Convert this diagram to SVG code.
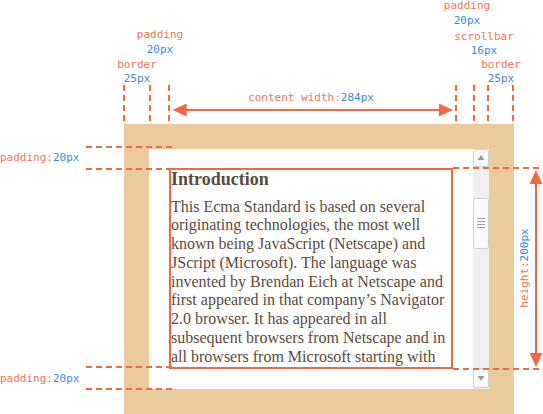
<svg xmlns="http://www.w3.org/2000/svg" width="543" height="414" viewBox="0 0 543 414">
<style>
.lbl{font-family:"DejaVu Sans Mono","Liberation Mono",monospace;font-size:11px}
.r{fill:#ee7556}
.b{fill:#3d89d0}
.dash{stroke:#ee6a45;stroke-width:2;stroke-dasharray:6 4;fill:none}
.arr{stroke:#ee6a45;stroke-width:2;fill:none}
.body{font-family:"Liberation Serif","Times New Roman",serif;font-size:16px;fill:#5b4a3c}
.h{font-family:"Liberation Serif","Times New Roman",serif;font-size:18px;font-weight:bold;fill:#5b4a3c}
.btn{fill:#fafafa;stroke:#cfcfcf;stroke-width:1}
.tri{fill:#9a9a9a}
.grip{stroke:#9a9a9a;stroke-width:1}
</style>
<defs>
<marker id="ah" markerUnits="userSpaceOnUse" viewBox="0 0 14 13" markerWidth="14" markerHeight="13" refX="10" refY="6.5" orient="auto-start-reverse">
<path d="M0,0 L14,6.5 L0,13 Z" fill="#ee6a45"/>
</marker>
</defs>
<g id="border-box">
<rect x="124" y="124" width="390" height="290" fill="#ebca9c"/>
<rect x="149" y="149" width="340" height="240" fill="#ffffff"/>
</g>
<g id="scrollbar">
<rect x="473" y="149" width="16" height="240" fill="#efefef"/>
<rect class="btn" x="473.5" y="149.5" width="15" height="17" rx="2"/>
<path class="tri" d="M477.5,160 L481,155 L484.5,160 Z"/>
<rect class="btn" x="473.5" y="198.5" width="15" height="50" rx="2"/>
<path class="grip" d="M477,218.5 H485 M477,221.5 H485 M477,224.5 H485 M477,227.5 H485"/>
<rect class="btn" x="473.5" y="368.5" width="15" height="19" rx="2"/>
<path class="tri" d="M477.5,376 L481,381 L484.5,376 Z"/>
</g>
<g id="content">
<rect x="170" y="169" width="282" height="199" fill="none" stroke="#ee6a45" stroke-width="2"/>
<text class="h" x="171" y="185">Introduction</text>
<text class="body" x="171" y="211.5">This Ecma Standard is based on several</text>
<text class="body" x="171" y="230.25">originating technologies, the most well</text>
<text class="body" x="171" y="249">known being JavaScript (Netscape) and</text>
<text class="body" x="171" y="267.75">JScript (Microsoft). The language was</text>
<text class="body" x="171" y="286.5">invented by Brendan Eich at Netscape and</text>
<text class="body" x="171" y="305.25">first appeared in that company’s Navigator</text>
<text class="body" x="171" y="324">2.0 browser. It has appeared in all</text>
<text class="body" x="171" y="342.75">subsequent browsers from Netscape and in</text>
<text class="body" x="171" y="361.5">all browsers from Microsoft starting with</text>
</g>
<g id="connectors">
<path class="dash" d="M124,85 V124 M150,85 V124 M169,85 V124 M456,85 V124 M474,85 V124 M488,85 V124 M513,85 V124"/>
<path class="dash" d="M86,147 H172 M86,169 H170 M86,367 H172 M86,389 H172"/>
<path class="dash" d="M453,168 H543 M453,369 H543"/>
<line class="arr" x1="176.7" y1="110" x2="449" y2="110" marker-start="url(#ah)" marker-end="url(#ah)"/>
<line class="arr" x1="536" y1="174" x2="536" y2="363" marker-start="url(#ah)" marker-end="url(#ah)"/>
</g>
<g id="labels" class="lbl" text-anchor="middle">
<text class="r" x="160" y="38">padding</text>
<text class="b" x="160" y="53">20px</text>
<text class="r" x="137" y="68">border</text>
<text class="b" x="137" y="82">25px</text>
<text class="r" x="467" y="9">padding</text>
<text class="b" x="467" y="24">20px</text>
<text class="r" x="484" y="40">scrollbar</text>
<text class="b" x="484" y="54">16px</text>
<text class="r" x="501" y="68">border</text>
<text class="b" x="501" y="82">25px</text>
<text x="311" y="101"><tspan class="r">content width:</tspan><tspan class="b">284px</tspan></text>
<text x="0" y="161" text-anchor="start"><tspan class="r">padding:</tspan><tspan class="b">20px</tspan></text>
<text x="0" y="382" text-anchor="start"><tspan class="r">padding:</tspan><tspan class="b">20px</tspan></text>
<text transform="translate(528,268) rotate(-90)" x="0" y="0"><tspan class="r">height:</tspan><tspan class="b">200px</tspan></text>
</g>
</svg>
